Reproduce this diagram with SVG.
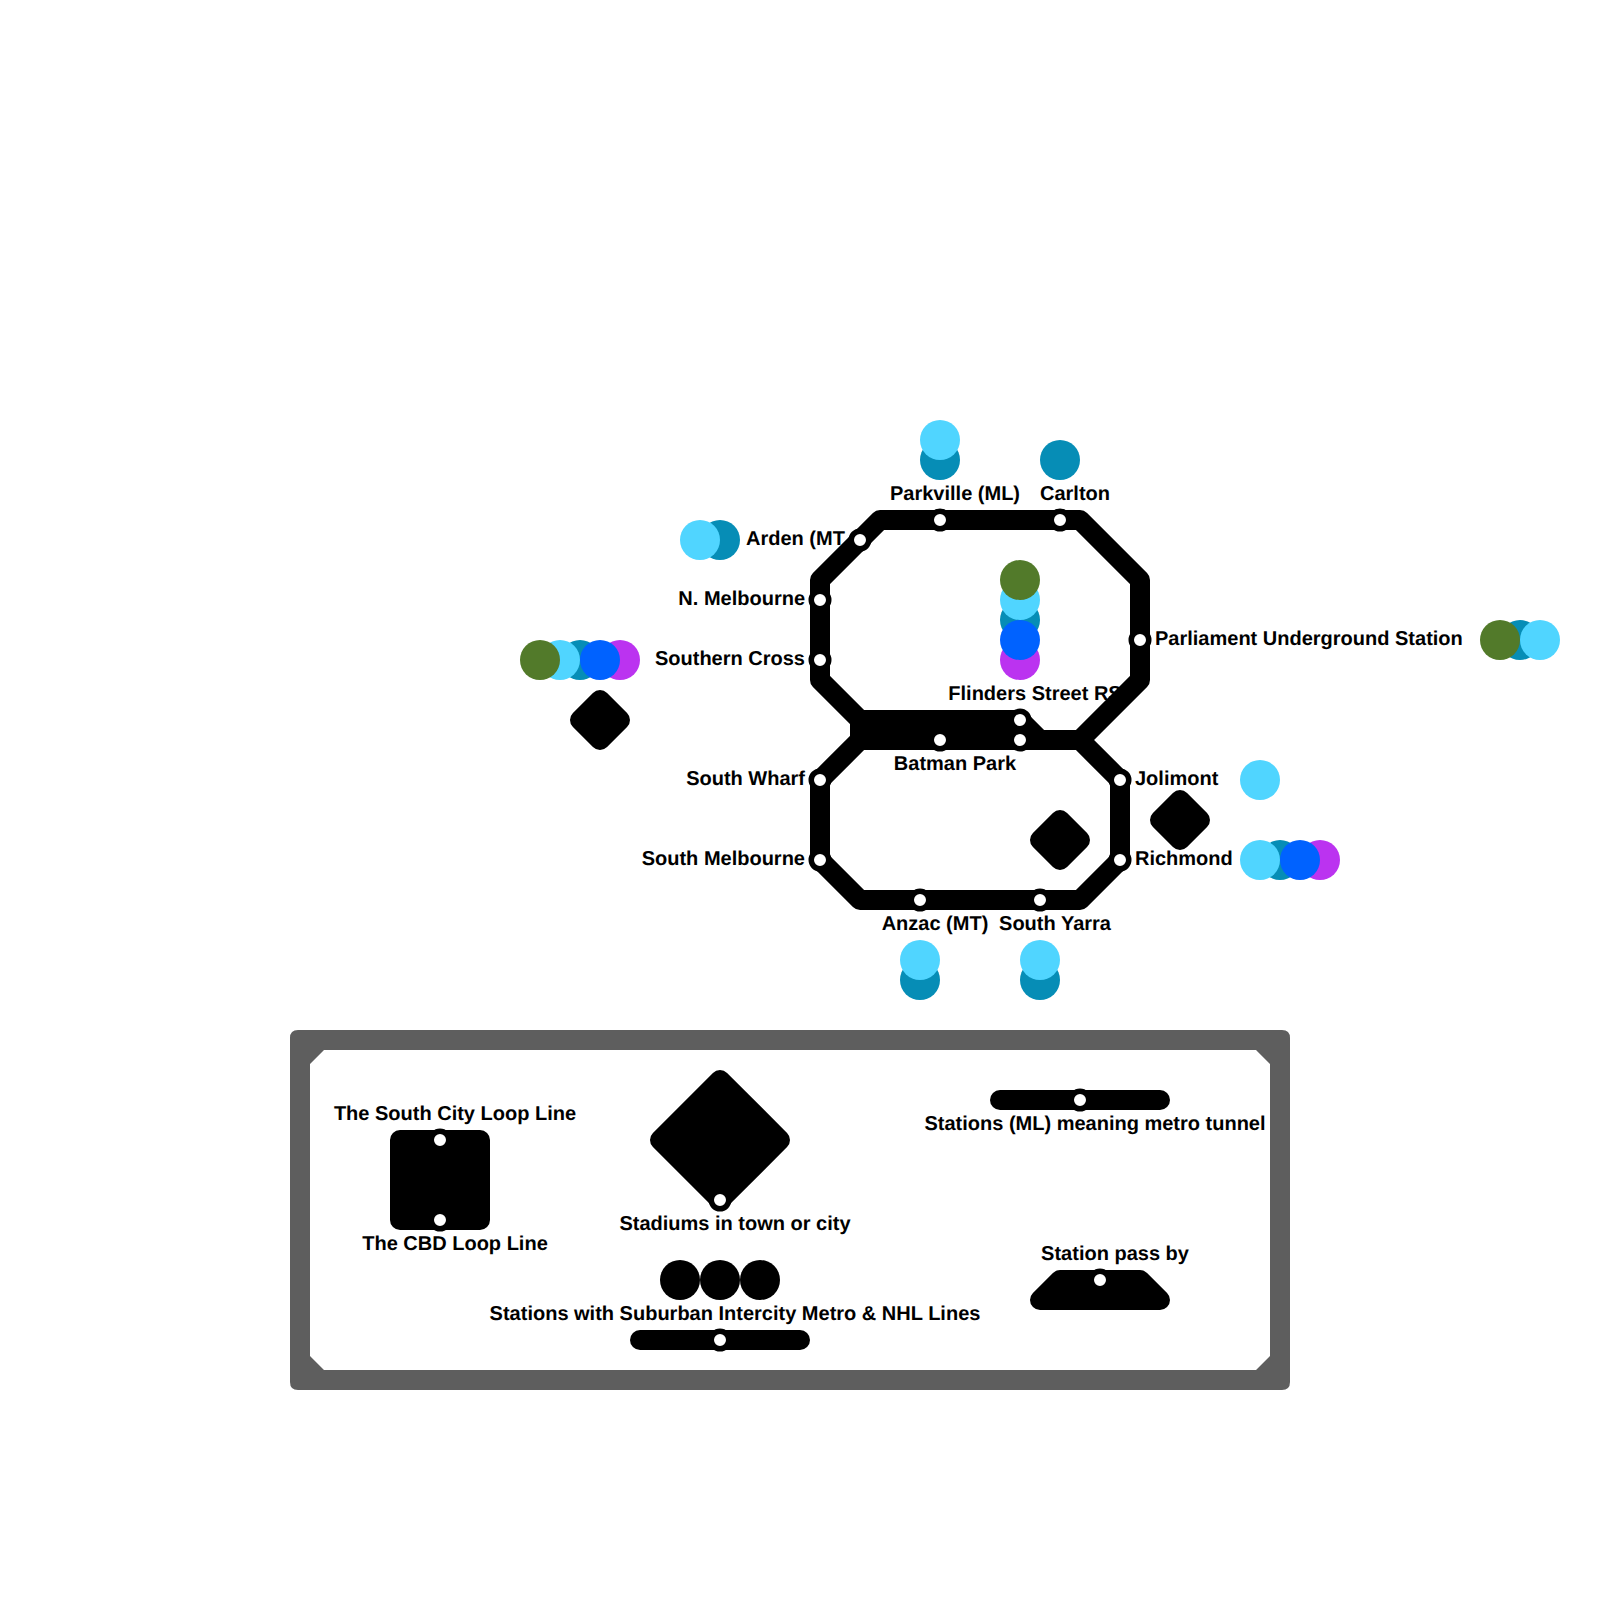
<svg xmlns="http://www.w3.org/2000/svg" width="1600" height="1600" viewBox="0 0 1600 1600">
<defs>
<style>
text{font-family:"Liberation Sans",Arial,sans-serif;font-weight:bold;font-size:20px;fill:#000;text-rendering:geometricPrecision;transform:translateY(-0.5px)}
.m{text-anchor:middle}.e{text-anchor:end}
.ln{fill:none;stroke:#000;stroke-width:20;stroke-linejoin:round;stroke-linecap:round}
.solid{fill:#000;stroke:#000;stroke-width:20;stroke-linejoin:round}
.st{fill:#fff;stroke:#000;stroke-width:5.5}
.g{fill:#527a2a}.l{fill:#50d5ff}.t{fill:#068db6}.b{fill:#0062ff}.p{fill:#bb33f0}.k{fill:#000}
</style>
<circle id="s" r="8.75" class="st"/>
<circle id="d" r="20"/>
</defs>
<rect width="1600" height="1600" fill="#fff"/>
<g id="legend-frame"><path fill="#5e5e5e" fill-rule="evenodd" d="M298 1030H1282Q1290 1030 1290 1038V1382Q1290 1390 1282 1390H298Q290 1390 290 1382V1038Q290 1030 298 1030ZM324 1050L310 1064V1356L324 1370H1256L1270 1356V1064L1256 1050Z"/></g>

<g id="node-parkville"><text class="m" x="955" y="500">Parkville (ML)</text><use href="#d" class="t" x="940" y="460"/><use href="#d" class="l" x="940" y="440"/></g>
<g id="node-carlton"><text class="m" x="1075" y="500">Carlton</text><use href="#d" class="t" x="1060" y="460"/></g>
<g id="node-arden"><text x="746" y="545">Arden (MT</text><use href="#d" class="t" x="720" y="540"/><use href="#d" class="l" x="700" y="540"/></g>
<g id="node-north-melbourne"><text class="e" x="805" y="605">N. Melbourne</text></g>
<g id="node-southern-cross"><text class="e" x="805" y="665">Southern Cross</text><use href="#d" class="p" x="620" y="660"/><use href="#d" class="t" x="580" y="660"/><use href="#d" class="l" x="560" y="660"/><use href="#d" class="b" x="600" y="660"/><use href="#d" class="g" x="540" y="660"/></g>
<g id="node-flinders"><text class="m" x="1035" y="700">Flinders Street RS</text><use href="#d" class="p" x="1020" y="660"/><use href="#d" class="t" x="1020" y="620"/><use href="#d" class="b" x="1020" y="640"/><use href="#d" class="l" x="1020" y="600"/><use href="#d" class="g" x="1020" y="580"/></g>
<g id="node-parliament"><text x="1155" y="645">Parliament Underground Station</text><use href="#d" class="t" x="1520" y="640"/><use href="#d" class="g" x="1500" y="640"/><use href="#d" class="l" x="1540" y="640"/></g>
<g id="node-batman-park"><text class="m" x="955" y="770">Batman Park</text></g>
<g id="node-south-wharf"><text class="e" x="805" y="785">South Wharf</text></g>
<g id="node-south-melbourne"><text class="e" x="805" y="865">South Melbourne</text></g>
<g id="node-jolimont"><text x="1135" y="785">Jolimont</text><use href="#d" class="l" x="1260" y="780"/></g>
<g id="node-richmond"><text x="1135" y="865">Richmond</text><use href="#d" class="p" x="1320" y="860"/><use href="#d" class="t" x="1280" y="860"/><use href="#d" class="b" x="1300" y="860"/><use href="#d" class="l" x="1260" y="860"/></g>
<g id="node-anzac"><text class="m" x="935" y="930">Anzac (MT)</text><use href="#d" class="t" x="920" y="980"/><use href="#d" class="l" x="920" y="960"/></g>
<g id="node-south-yarra"><text class="m" x="1055" y="930">South Yarra</text><use href="#d" class="t" x="1040" y="980"/><use href="#d" class="l" x="1040" y="960"/></g>

<g id="node-stadium-1"><path class="solid" d="M600 700L620 720L600 740L580 720Z"/></g>
<g id="node-stadium-2"><path class="solid" d="M1060 820L1080 840L1060 860L1040 840Z"/></g>
<g id="node-stadium-3"><path class="solid" d="M1180 800L1200 820L1180 840L1160 820Z"/></g>

<g id="legend-south-city"><text class="m" x="455" y="1120">The South City Loop Line</text><text class="m" x="455" y="1250">The CBD Loop Line</text></g>
<g id="legend-stadium"><path class="solid" d="M720 1080L780 1140L720 1200L660 1140Z"/><text class="m" x="735" y="1230">Stadiums in town or city</text></g>
<g id="legend-lines"><use href="#d" class="k" x="680" y="1280"/><use href="#d" class="k" x="720" y="1280"/><use href="#d" class="k" x="760" y="1280"/><text class="m" x="735" y="1320">Stations with Suburban Intercity Metro &amp; NHL Lines</text></g>
<g id="legend-ml"><text class="m" x="1095" y="1130">Stations (ML) meaning metro tunnel</text></g>
<g id="legend-pass"><text class="m" x="1115" y="1260">Station pass by</text></g>

<g id="connectors">
<path class="ln" d="M860 720L820 680V580L880 520H1080L1140 580V680L1080 740H860L820 780V860L860 900H1080L1120 860V780L1080 740"/>
<path class="ln" d="M860 720H1020L1040 740"/>
<rect x="850" y="722" width="20" height="16" fill="#000"/>
<path class="solid" d="M400 1140H480V1220H400Z"/>
<path class="ln" d="M640 1340H800"/>
<path class="ln" d="M1000 1100H1160"/>
<path class="solid" d="M1040 1300L1060 1280H1140L1160 1300Z"/>
</g>

<g id="stops">
<use href="#s" x="940" y="520"/><use href="#s" x="1060" y="520"/><use href="#s" x="860" y="540"/><use href="#s" x="820" y="600"/><use href="#s" x="820" y="660"/><use href="#s" x="1140" y="640"/><use href="#s" x="1020" y="720"/><use href="#s" x="1020" y="740"/><use href="#s" x="940" y="740"/><use href="#s" x="820" y="780"/><use href="#s" x="820" y="860"/><use href="#s" x="1120" y="780"/><use href="#s" x="1120" y="860"/><use href="#s" x="920" y="900"/><use href="#s" x="1040" y="900"/>
<use href="#s" x="440" y="1140"/><use href="#s" x="440" y="1220"/><use href="#s" x="720" y="1200"/><use href="#s" x="720" y="1340"/><use href="#s" x="1080" y="1100"/><use href="#s" x="1100" y="1280"/>
</g>
</svg>
